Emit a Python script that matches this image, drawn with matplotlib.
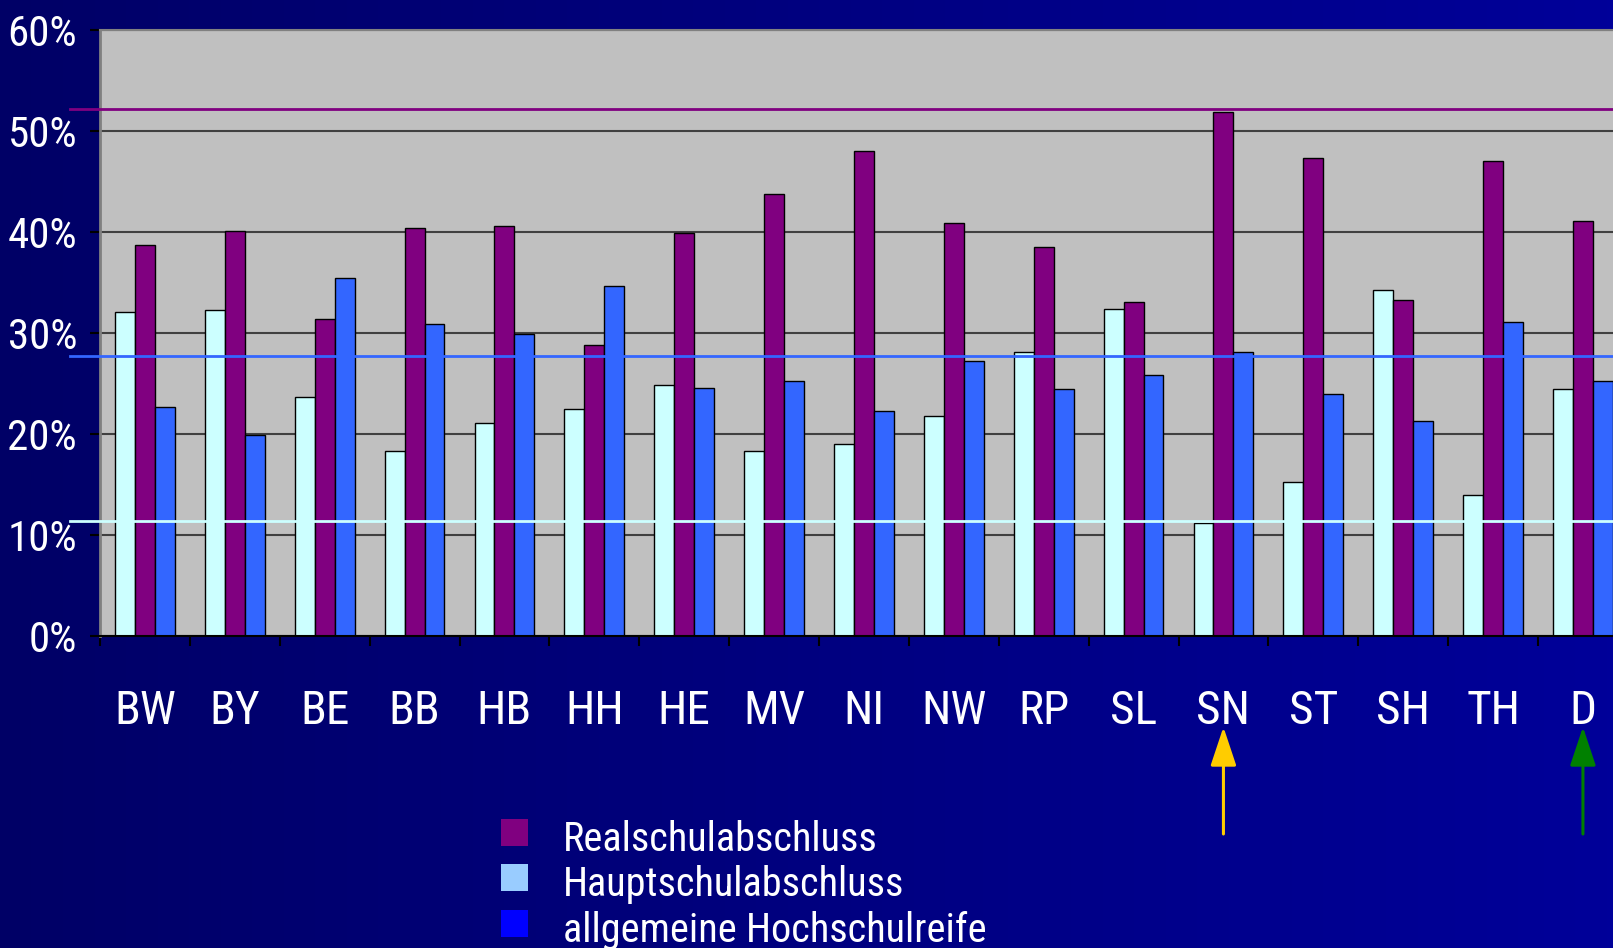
import numpy as np
import matplotlib
matplotlib.use('Agg')
from matplotlib import pyplot as plt
from matplotlib import font_manager
from matplotlib.patches import Rectangle

states = ['BW', 'BY', 'BE', 'BB', 'HB', 'HH', 'HE', 'MV', 'NI',
          'NW', 'RP', 'SL', 'SN', 'ST', 'SH', 'TH', 'D']
haupt = [32.1, 32.3, 23.7, 18.3, 21.1, 22.5, 24.9, 18.3, 19.0,
         21.8, 28.1, 32.4, 11.2, 15.2, 34.3, 14.0, 24.5]
real = [38.7, 40.1, 31.4, 40.4, 40.6, 28.8, 39.9, 43.8, 48.0,
        40.9, 38.5, 33.1, 51.9, 47.3, 33.3, 47.0, 41.1]
abitur = [22.7, 19.9, 35.4, 30.9, 29.9, 34.7, 24.6, 25.2, 22.3,
          27.2, 24.5, 25.8, 28.1, 24.0, 21.3, 31.1, 25.2]
# horizontal marker lines (Sachsen values)
ref_real, ref_abitur, ref_haupt = 52.2, 27.7, 11.4
yticks = [0, 10, 20, 30, 40, 50, 60]
legend_labels = ['Realschulabschluss', 'Hauptschulabschluss', 'allgemeine Hochschulreife']
legend_colors = ['#800080', '#99ccff', '#0000ff']

W, H = 1613, 948

available = {f.name for f in font_manager.fontManager.ttflist}
narrow = 'Liberation Sans'
for cand in ['Liberation Sans Narrow', 'Roboto Condensed', 'Open Sans Condensed']:
    if cand in available:
        narrow = cand
        break

fig = plt.figure(figsize=(W / 100, H / 100), dpi=100)

# background gradient, dark navy to blue
bg = fig.add_axes([0, 0, 1, 1], zorder=-10)
grad = np.linspace(0, 1, 256).reshape(1, -1)
cmap = matplotlib.colors.LinearSegmentedColormap.from_list('bg', ['#000066', '#000099'])
bg.imshow(grad, aspect='auto', cmap=cmap, extent=[0, 1, 0, 1])
bg.axis('off')

ax = fig.add_axes([100 / W, (H - 636) / H, 1513 / W, 606 / H])
ax.set_facecolor('#c0c0c0')

x = np.arange(len(states))
bw = 0.222
ax.bar(x - bw, haupt, bw, color='#ccffff', edgecolor='black', lw=1, zorder=2)
ax.bar(x, real, bw, color='#800080', edgecolor='black', lw=1, zorder=2)
ax.bar(x + bw, abitur, bw, color='#3366ff', edgecolor='black', lw=1, zorder=2)

ax.set_yticks(yticks)
ax.set_yticklabels([f'{t}%' for t in yticks])
ax.yaxis.grid(True, color='#404040', lw=1.5)
ax.set_axisbelow(True)
ax.tick_params(axis='y', length=7.5, width=1.5, color='black', pad=9,
               labelcolor='white', labelsize=31)

ax.set_xticks(np.arange(-0.5, len(states), 1))
ax.set_xticklabels([])
ax.set_xticks(x, minor=True)
ax.set_xticklabels(states, minor=True)
ax.tick_params(axis='x', which='major', length=7.5, width=1.5, color='black')
ax.tick_params(axis='x', which='minor', length=0, pad=38,
               labelcolor='white', labelsize=34)
for lab in ax.get_yticklabels() + ax.get_xticklabels(minor=True):
    lab.set_family(narrow)

# plot area is cut off by the right image edge
ax.set_xlim(-0.5, -0.5 + 1513 / 89.875)
ax.set_ylim(0, 60)

ax.spines['left'].set_color('#808080')
ax.spines['left'].set_linewidth(2)
ax.spines['top'].set_color('#808080')
ax.spines['top'].set_linewidth(1.5)
ax.spines['bottom'].set_color('black')
ax.spines['bottom'].set_linewidth(1.5)
ax.spines['right'].set_visible(False)

lx = -30 / 1513
ax.axhline(ref_real, xmin=lx, xmax=1, color='#800080', lw=2, clip_on=False, zorder=3)
ax.axhline(ref_abitur, xmin=lx, xmax=1, color='#3366ff', lw=2, clip_on=False, zorder=3)
ax.axhline(ref_haupt, xmin=lx, xmax=1, color='#ccffff', lw=2, clip_on=False, zorder=3)

# arrows under SN and D
tip, tail = (H - 727) / H, (H - 834) / H
for xi, col in [(states.index('SN'), '#ffcc00'), (states.index('D'), '#008000')]:
    ax.annotate('', xy=(xi, tip), xycoords=('data', 'figure fraction'),
                xytext=(xi, tail), textcoords=('data', 'figure fraction'),
                arrowprops=dict(arrowstyle='-|>,head_width=0.8,head_length=2.4',
                                color=col, lw=2.2, shrinkA=0, shrinkB=0))

# legend
for i, (lab, col) in enumerate(zip(legend_labels, legend_colors)):
    sq_c = 832.5 + 45.3 * i
    base = 851 + 45.3 * i
    fig.patches.append(Rectangle((501 / W, (H - sq_c - 13.5) / H), 27 / W, 27 / H,
                                 transform=fig.transFigure, facecolor=col,
                                 edgecolor='none'))
    fig.text(563 / W, (H - base) / H, lab, color='white', fontsize=29,
             family=narrow, va='baseline', ha='left')

fig.savefig('out.png', dpi=100)
